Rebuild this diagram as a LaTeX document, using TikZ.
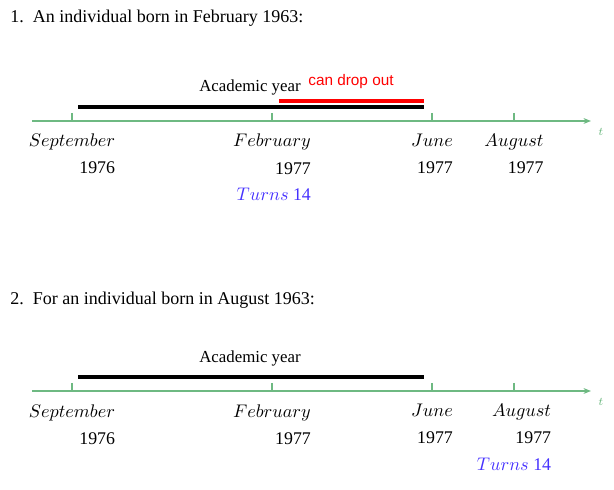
\documentclass[tikz,border=0pt]{standalone}
\usepackage{fontspec}
\setmainfont{Liberation Serif}
\newfontfamily\dropfont{Liberation Sans}
\usetikzlibrary{arrows.meta,positioning}
\definecolor{axisgreen}{RGB}{110,185,130}
\definecolor{turnblue}{RGB}{70,50,255}

\begin{document}
\begin{tikzpicture}[x=0.6pt, y=-0.6pt,
    axis/.style={draw=axisgreen, line width=0.7pt, -{Stealth[length=4.5pt,width=3.5pt]}},
    tickmark/.style={draw=axisgreen, line width=0.7pt},
    bar/.style={line width=2.6pt},
    head/.style={anchor=base west, inner sep=0pt, font=\fontsize{10.8}{13}\selectfont},
    period/.style={anchor=base, inner sep=0pt, font=\fontsize{10.1}{12}\selectfont},
    drop/.style={anchor=base, inner sep=0pt, text=red, font=\dropfont\fontsize{9.2}{11}\selectfont},
    month/.style={anchor=north, inner sep=0pt, align=right, font=\fontsize{10.7}{16.2}\selectfont},
    tlabel/.style={text=axisgreen, inner sep=0pt, font=\fontsize{7}{8}\selectfont}
]
\useasboundingbox (0,0) rectangle (614,490);

% first case: born in February
\node[head] (h1) at (10,23) {1.\ \ An individual born in February 1963:};
\coordinate (a1s) at (32,121);
\coordinate (a1e) at (591,121);
\draw[axis] (a1s) -- (a1e);
\node[tlabel] (t1) at (601,132) {$t$};
\foreach \x/\n in {72/sep, 272/feb, 432/jun, 514/aug}
    \draw[tickmark] (\x,113) -- (\x,121) coordinate (\n1);

\coordinate (y1s) at (78,107);
\coordinate (y1e) at (424,107);
\coordinate (d1s) at (279,101);
\coordinate (d1e) at (424,101);
\draw[bar] (y1s) -- (y1e);
\draw[bar, red] (d1s) -- (d1e);
\node[period] (acad1) at (250,92) {Academic year};
\node[drop] (drop1) at (351,86) {can drop out};

\node[month] (lsep1) at (72,134) {$September$\\1976};
\node[month] (lfeb1) at (272,134) {$February$\\1977\\\textcolor{turnblue}{$Turns$ 14}};
\node[month] (ljun1) at (432,134) {$June$\\1977};
\node[month] (laug1) at (514,134) {$August$\\1977};

% second case: born in August
\node[head] (h2) at (10,305) {2.\ \ For an individual born in August 1963:};
\coordinate (a2s) at (32,391);
\coordinate (a2e) at (591,391);
\draw[axis] (a2s) -- (a2e);
\node[tlabel] (t2) at (601,402) {$t$};
\foreach \x/\n in {72/sep, 272/feb, 432/jun, 514/aug}
    \draw[tickmark] (\x,383) -- (\x,391) coordinate (\n2);

\coordinate (y2s) at (78,377);
\coordinate (y2e) at (424,377);
\draw[bar] (y2s) -- (y2e);
\node[period] (acad2) at (250,363) {Academic year};

\node[month] (lsep2) at (72,404) {$September$\\1976};
\node[month] (lfeb2) at (272,404) {$February$\\1977};
\node[month] (ljun2) at (432,404) {$June$\\1977};
\node[month] (laug2) at (514,404) {$August$\\1977\\\textcolor{turnblue}{$Turns$ 14}};
\end{tikzpicture}
\end{document}
